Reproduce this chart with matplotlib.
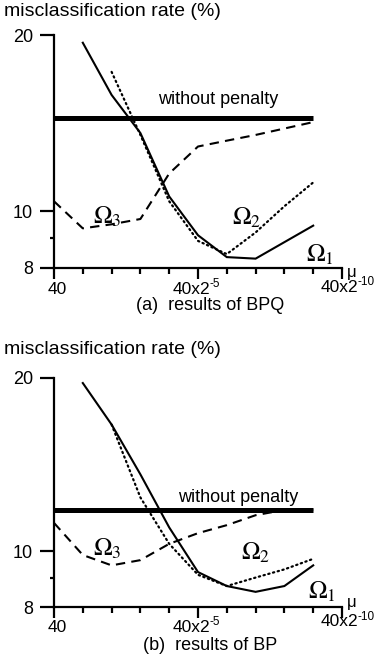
import numpy as np
import matplotlib
matplotlib.use('Agg')
from matplotlib import pyplot as plt

plt.rcParams['font.family'] = ['Liberation Sans', 'DejaVu Sans']
plt.rcParams['mathtext.fontset'] = 'stix'

# x positions: mu = 40 x 2^-k, k = 0..10
mu_steps = np.arange(0, 11)
# labelled ticks: (base, exponent)
mu_labels = {0: ('40', ''), 5: ('40x2', '-5'), 10: ('40x2', '-10')}

# (a) BPQ, misclassification rate (%)
bpq_k1 = [1, 2, 3, 4, 5, 6, 7, 9]
bpq_omega1 = [19.4, 15.8, 13.6, 10.6, 9.1, 8.35, 8.3, 9.45]
bpq_k2 = [2, 3, 4, 5, 6, 7, 8, 9]
bpq_omega2 = [17.3, 13.5, 10.4, 8.9, 8.45, 9.2, 10.2, 11.2]
bpq_k3 = [0, 1, 2, 3, 4, 5, 6, 7, 9]
bpq_omega3 = [10.4, 9.35, 9.5, 9.7, 11.6, 12.9, 13.2, 13.5, 14.2]
bpq_nopenalty = 14.45

# (b) BP
bp_k1 = [1, 2, 3, 4, 5, 6, 7, 8, 9]
bp_omega1 = [19.6, 16.6, 13.6, 11.0, 9.2, 8.7, 8.5, 8.7, 9.45]
bp_k2 = [2, 3, 4, 5, 6, 7, 8, 9]
bp_omega2 = [16.6, 12.4, 10.3, 9.1, 8.7, 9.0, 9.3, 9.7]
bp_k3 = [0, 1, 2, 3, 4, 5, 6, 7, 8, 9]
bp_omega3 = [11.2, 9.85, 9.45, 9.65, 10.3, 10.75, 11.1, 11.55, 11.8, 11.8]
bp_nopenalty = 11.8


W, H = 383, 671
fig = plt.figure(figsize=(W / 100, H / 100), dpi=100)


def fx(px):
    return px / W


def fy(py):
    return 1 - py / H


def draw_panel(rect, k1, y1, k2, y2, k3, y3, nopen, lbl_pos, caption, cap_y, ylab_y, mu_y,
               lab_dy, lab10_dy):
    ax = fig.add_axes(rect)
    ax.set_yscale('log')
    ax.set_xlim(0, 10)
    ax.set_ylim(8, 20)
    for s in ['top', 'right']:
        ax.spines[s].set_visible(False)
    for s in ['left', 'bottom']:
        ax.spines[s].set_linewidth(1.6)

    # curves
    ax.plot(k1, y1, color='black', lw=1.5, solid_joinstyle='miter', clip_on=False)
    ax.plot(k2, y2, color='black', lw=1.6, linestyle=(0, (0.6, 1.6)),
            dash_capstyle='round', clip_on=False)
    ax.plot(k3, y3, color='black', lw=1.5, linestyle=(0, (4.5, 3.0)), clip_on=False)
    ax.plot([0, 9], [nopen, nopen], color='black', lw=3.6, solid_capstyle='butt', zorder=5)

    # y ticks
    ax.yaxis.set_major_locator(matplotlib.ticker.FixedLocator([8, 10, 20]))
    ax.yaxis.set_major_formatter(matplotlib.ticker.FixedFormatter(['8', '10', '20']))
    ax.yaxis.set_minor_locator(matplotlib.ticker.FixedLocator([9]))
    ax.yaxis.set_minor_formatter(matplotlib.ticker.NullFormatter())
    ax.tick_params(axis='y', which='major', direction='out', length=10, width=1.6,
                   pad=5, labelsize=13)
    ax.tick_params(axis='y', which='minor', direction='out', length=3, width=1.6)

    # x ticks, labels drawn by hand so the exponent is a small plain "-5"
    ax.set_xticks(mu_steps)
    ax.set_xticklabels([''] * len(mu_steps))
    ax.tick_params(axis='x', direction='out', length=4, width=1.6)
    for i, t in enumerate(ax.xaxis.get_major_ticks()):
        if i in (0, 5, 10):
            t.tick1line.set_markersize(8)

    for k, (base, ex) in mu_labels.items():
        dy = -lab_dy + (lab10_dy if k == 10 else 0)
        if ex == '':
            ax.annotate(base, xy=(k, 0), xycoords=('data', 'axes fraction'),
                        xytext=(3, dy), textcoords='offset pixels',
                        ha='center', va='center', fontsize=12.5)
        else:
            shift = 12 if len(ex) == 2 else 16
            ax.annotate(base, xy=(k, 0), xycoords=('data', 'axes fraction'),
                        xytext=(shift, dy), textcoords='offset pixels',
                        ha='right', va='center', fontsize=12.5)
            ax.annotate(ex, xy=(k, 0), xycoords=('data', 'axes fraction'),
                        xytext=(shift, dy + 5), textcoords='offset pixels',
                        ha='left', va='center', fontsize=8.5)

    om = lbl_pos
    ax.text(om['wp'][0], om['wp'][1], 'without penalty', ha='center', va='center', fontsize=13)
    ax.text(om[3][0], om[3][1], r'$\Omega_3$', ha='center', va='center', fontsize=18)
    ax.text(om[2][0], om[2][1], r'$\Omega_2$', ha='center', va='center', fontsize=18)
    ax.text(om[1][0], om[1][1], r'$\Omega_1$', ha='center', va='center', fontsize=18)

    fig.text(fx(4), fy(ylab_y), 'misclassification rate (%)', ha='left', va='center', fontsize=14)
    fig.text(fx(347), fy(mu_y), u'\u03bc', ha='left', va='center', fontsize=12)
    fig.text(fx(210), fy(cap_y), caption, ha='center', va='center', fontsize=13)
    return ax


# panel (a)
draw_panel([fx(54), fy(268), fx(288), 233 / H],
           bpq_k1, bpq_omega1, bpq_k2, bpq_omega2, bpq_k3, bpq_omega3, bpq_nopenalty,
           {'wp': (5.7, 15.5), 3: (1.84, 9.77), 2: (6.7, 9.75), 1: (9.24, 8.41)},
           '(a)  results of BPQ', 305, 11, 272, 21, 2)

# panel (b)
draw_panel([fx(54), fy(607), fx(288), 229 / H],
           bp_k1, bp_omega1, bp_k2, bp_omega2, bp_k3, bp_omega3, bp_nopenalty,
           {'wp': (6.4, 12.4), 3: (1.84, 10.1), 2: (7.0, 9.93), 1: (9.3, 8.49)},
           '(b)  results of BP', 645, 349, 603, 20, 5)

fig.savefig('out.png', dpi=100)
